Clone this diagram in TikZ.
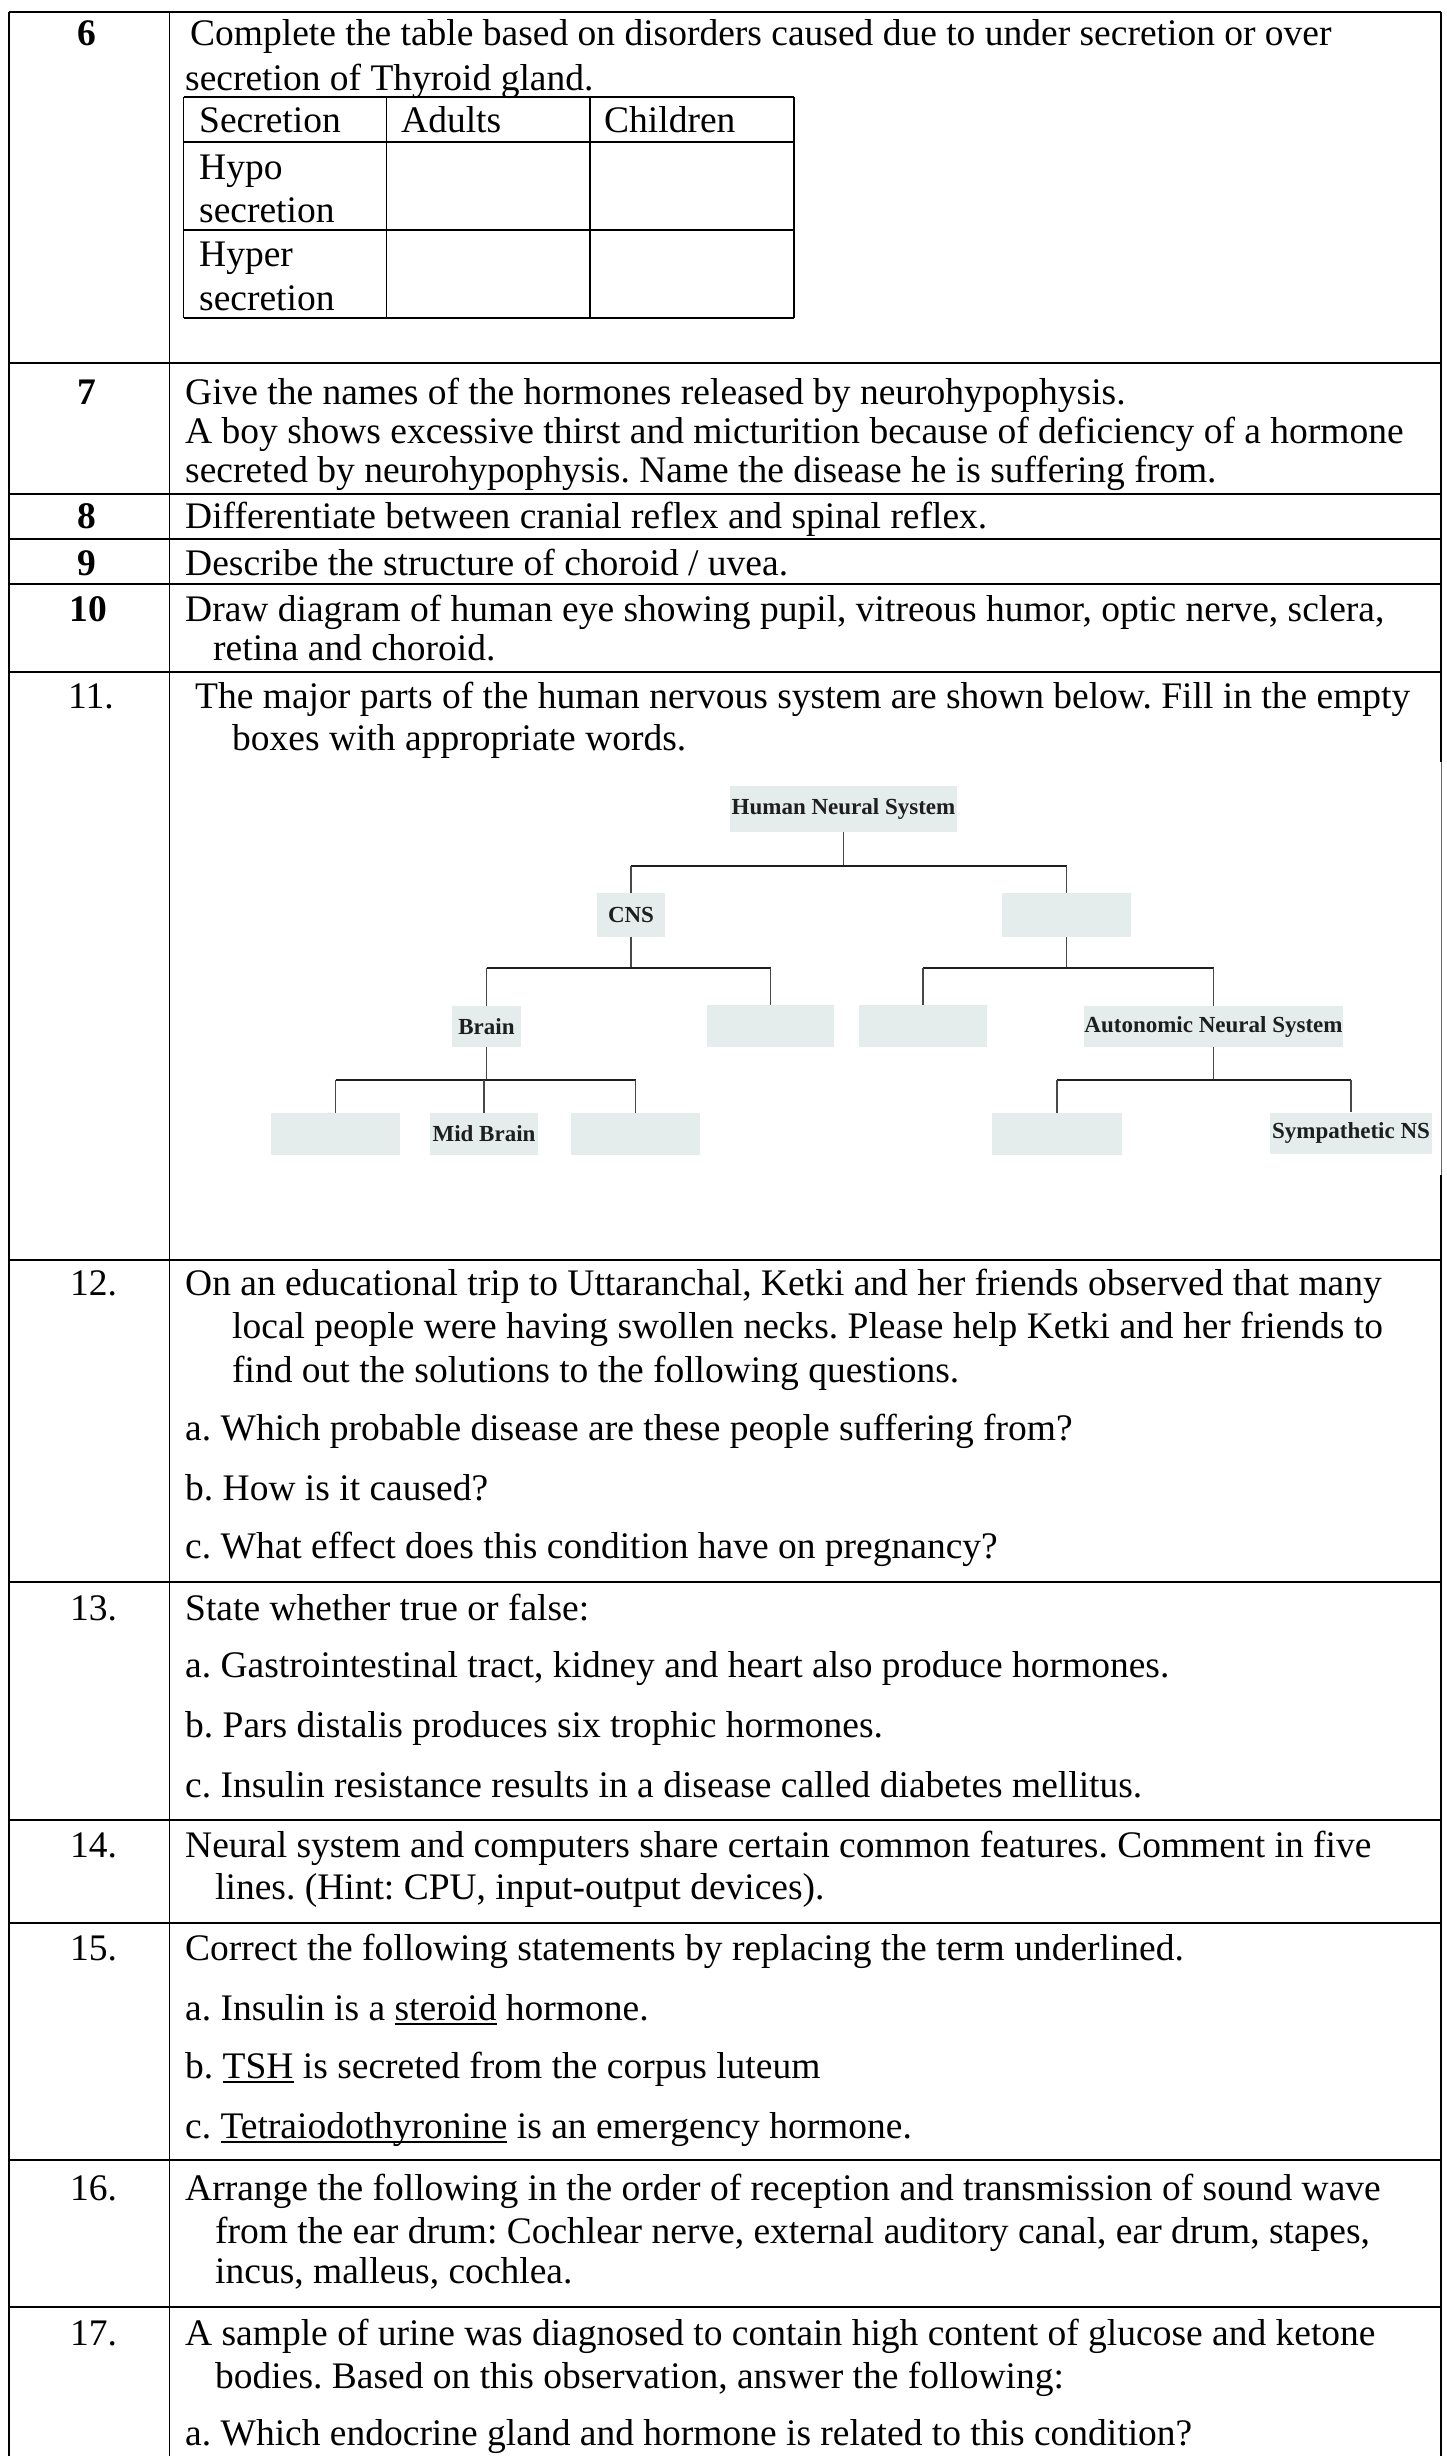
\documentclass[tikz,border=0pt]{standalone}
\usepackage{fontspec}
\setmainfont{Liberation Serif}
\definecolor{boxfill}{HTML}{E4ECEC}
\definecolor{diagtext}{HTML}{1E1E1E}
\newcommand{\myul}[1]{\setbox0=\hbox{#1}\rlap{\rule[-5pt]{\wd0}{2.2pt}}\box0\relax}
\frenchspacing
\begin{document}
\begin{tikzpicture}[x=1pt,y=-1pt,
  txt/.style={anchor=base west,inner sep=0pt,font=\fontsize{37.5}{43}\selectfont},
  num/.style={anchor=base,inner sep=0pt,font=\fontsize{37.5}{43}\selectfont\bfseries},
  numr/.style={anchor=base west,inner sep=0pt,font=\fontsize{37.5}{43}\selectfont},
  rowline/.style={line width=2.6pt},
  colline/.style={line width=1.8pt},
  tline/.style={line width=2.2pt},
  tvline/.style={line width=1.5pt},
  dbox/.style={fill=boxfill,inner sep=0pt,font=\fontsize{23}{23}\selectfont\bfseries,text=diagtext},
  hbar/.style={line width=2.8pt,draw=black!88},
  vbar/.style={line width=1.4pt,draw=black!72}]
\useasboundingbox (0,0) rectangle (1447,2456);

% ---------- outer grid ----------
\draw[rowline] (9,12) -- (1441,12);
\draw[colline] (9,12) -- (9,2456);
\draw[colline] (169.5,12) -- (169.5,2456);
\draw[colline] (1441,12) -- (1441,762);
\draw[line width=0.8pt,black!60] (1441,762) -- (1441,1175);
\draw[colline] (1441,1175) -- (1441,2456);
\foreach \yy in {363,494,539,584,672,1260,1582,1820,1923,2160,2307}
  \draw[rowline] (9,\yy) -- (1441,\yy);

% ---------- row 6 ----------
\node[num] (n6) at (87,46) {6};
\node[txt] (t6a) at (190,46) {Complete the table based on disorders caused due to under secretion or over};
\node[txt] (t6b) at (185,91) {secretion of Thyroid gland.};
\draw[tline] (183.5,97) -- (794,97);
\draw[tline] (183.5,142) -- (794,142);
\draw[tline] (183.5,230) -- (794,230);
\draw[tline] (183.5,318) -- (794,318);
\foreach \xx in {183.5,386.5,590,794}
  \draw[tvline] (\xx,97) -- (\xx,318);
\node[txt] (h1) at (199,133) {Secretion};
\node[txt] (h2) at (401,133) {Adults};
\node[txt] (h3) at (604,133) {Children};
\node[txt] (c1) at (199,180) {Hypo};
\node[txt] (c2) at (199,223) {secretion};
\node[txt] (c3) at (199,267) {Hyper};
\node[txt] (c4) at (199,310) {secretion};

% ---------- row 7 ----------
\node[num] (n7) at (87,404) {7};
\node[txt] (t7a) at (185,404) {Give the names of the hormones released by neurohypophysis.};
\node[txt] (t7b) at (185,443) {A boy shows excessive thirst and micturition because of deficiency of a hormone};
\node[txt] (t7c) at (185,482) {secreted by neurohypophysis. Name the disease he is suffering from.};

% ---------- rows 8-10 ----------
\node[num] (n8) at (87,528) {8};
\node[txt] (t8) at (185,528) {Differentiate between cranial reflex and spinal reflex.};
\node[num] (n9) at (87,575) {9};
\node[txt] (t9) at (185,575) {Describe the structure of choroid / uvea.};
\node[num] (n10) at (88,621) {10};
\node[txt] (t10a) at (185,621) {Draw diagram of human eye showing pupil, vitreous humor, optic nerve, sclera,};
\node[txt] (t10b) at (213,660) {retina and choroid.};

% ---------- row 11 ----------
\node[numr] (n11) at (68,708) {11.};
\node[txt] (t11a) at (195,708) {The major parts of the human nervous system are shown below. Fill in the empty};
\node[txt] (t11b) at (232,750) {boxes with appropriate words.};

\node[dbox,minimum width=227pt,minimum height=46pt] (hns) at (843.5,809) {Human Neural System};
\node[dbox,minimum width=68pt,minimum height=44pt] (cns) at (631,915) {CNS};
\node[dbox,minimum width=129pt,minimum height=44pt] (pns) at (1066.5,915) {};
\node[dbox,minimum width=69pt,minimum height=41pt] (brain) at (486.5,1026.5) {Brain};
\node[dbox,minimum width=127pt,minimum height=42pt] (spc) at (770.5,1026) {};
\node[dbox,minimum width=128pt,minimum height=42pt] (som) at (923,1026) {};
\node[dbox,minimum width=257pt,minimum height=41pt] (ans) at (1213.5,1026.5) {Autonomic Neural System};
\node[dbox,minimum width=129pt,minimum height=42pt] (fore) at (335.5,1134) {};
\node[dbox,minimum width=108pt,minimum height=42pt] (mid) at (484,1134) {Mid Brain};
\node[dbox,minimum width=129pt,minimum height=42pt] (hind) at (635.5,1134) {};
\node[dbox,minimum width=130pt,minimum height=42pt] (para) at (1057,1134) {};
\node[dbox,minimum width=162pt,minimum height=41pt] (symp) at (1351,1133) {Sympathetic NS};

\coordinate (j1) at (0,866);
\coordinate (j2) at (0,968);
\coordinate (j3) at (0,1080);
% level 1
\draw[vbar] (hns.south) -- (hns.south |- j1);
\draw[hbar] (cns.north |- j1) -- (pns.north |- j1);
\draw[vbar] (cns.north |- j1) -- (cns.north);
\draw[vbar] (pns.north |- j1) -- (pns.north);
% level 2
\draw[vbar] (cns.south) -- (cns.south |- j2);
\draw[hbar] (brain.north |- j2) -- (spc.north |- j2);
\draw[vbar] (brain.north |- j2) -- (brain.north);
\draw[vbar] (spc.north |- j2) -- (spc.north);
\draw[vbar] (pns.south) -- (pns.south |- j2);
\draw[hbar] (som.north |- j2) -- (ans.north |- j2);
\draw[vbar] (som.north |- j2) -- (som.north);
\draw[vbar] (ans.north |- j2) -- (ans.north);
% level 3
\draw[vbar] (brain.south) -- (brain.south |- j3);
\draw[hbar] (fore.north |- j3) -- (hind.north |- j3);
\draw[vbar] (fore.north |- j3) -- (fore.north);
\draw[vbar] (mid.north |- j3) -- (mid.north);
\draw[vbar] (hind.north |- j3) -- (hind.north);
\draw[vbar] (ans.south) -- (ans.south |- j3);
\draw[hbar] (para.north |- j3) -- (symp.north |- j3);
\draw[vbar] (para.north |- j3) -- (para.north);
\draw[vbar] (symp.north |- j3) -- (symp.north);

% ---------- row 12 ----------
\node[numr] (n12) at (70,1295) {12.};
\node[txt] (t12a) at (185,1295) {On an educational trip to Uttaranchal, Ketki and her friends observed that many};
\node[txt] (t12b) at (232,1338) {local people were having swollen necks. Please help Ketki and her friends to};
\node[txt] (t12c) at (232,1382) {find out the solutions to the following questions.};
\node[txt] (t12d) at (185,1440) {a. Which probable disease are these people suffering from?};
\node[txt] (t12e) at (185,1500) {b. How is it caused?};
\node[txt] (t12f) at (185,1558) {c. What effect does this condition have on pregnancy?};

% ---------- row 13 ----------
\node[numr] (n13) at (70,1620) {13.};
\node[txt] (t13a) at (185,1620) {State whether true or false:};
\node[txt] (t13b) at (185,1677) {a. Gastrointestinal tract, kidney and heart also produce hormones.};
\node[txt] (t13c) at (185,1737) {b. Pars distalis produces six trophic hormones.};
\node[txt] (t13d) at (185,1797) {c. Insulin resistance results in a disease called diabetes mellitus.};

% ---------- row 14 ----------
\node[numr] (n14) at (70,1857) {14.};
\node[txt] (t14a) at (185,1857) {Neural system and computers share certain common features. Comment in five};
\node[txt] (t14b) at (215,1899) {lines. (Hint: CPU, input-output devices).};

% ---------- row 15 ----------
\node[numr] (n15) at (70,1960) {15.};
\node[txt] (t15a) at (185,1960) {Correct the following statements by replacing the term underlined.};
\node[txt] (t15b) at (185,2020) {a. Insulin is a \myul{steroid} hormone.};
\node[txt] (t15c) at (185,2078) {b. \myul{TSH} is secreted from the corpus luteum};
\node[txt] (t15d) at (185,2138) {c. \myul{Tetraiodothyronine} is an emergency hormone.};

% ---------- row 16 ----------
\node[numr] (n16) at (70,2200) {16.};
\node[txt] (t16a) at (185,2200) {Arrange the following in the order of reception and transmission of sound wave};
\node[txt] (t16b) at (215,2243) {from the ear drum: Cochlear nerve, external auditory canal, ear drum, stapes,};
\node[txt] (t16c) at (215,2283) {incus, malleus, cochlea.};

% ---------- row 17 ----------
\node[numr] (n17) at (70,2345) {17.};
\node[txt] (t17a) at (185,2345) {A sample of urine was diagnosed to contain high content of glucose and ketone};
\node[txt] (t17b) at (215,2388) {bodies. Based on this observation, answer the following:};
\node[txt] (t17c) at (185,2445) {a. Which endocrine gland and hormone is related to this condition?};
\end{tikzpicture}
\end{document}
